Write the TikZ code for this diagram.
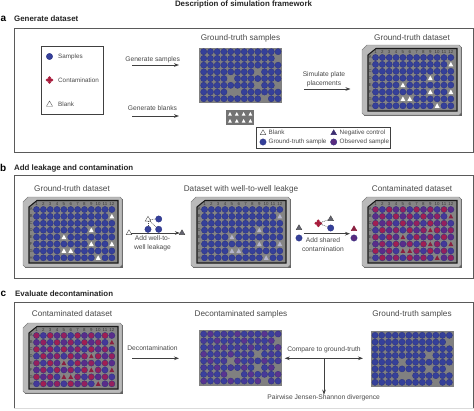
\documentclass[tikz,border=0pt]{standalone}
\usepackage{fontspec}
\setmainfont{Liberation Sans}
\usetikzlibrary{arrows.meta,shapes.geometric}
\definecolor{txt}{HTML}{4A4A4A}
\definecolor{frm}{HTML}{5A5A5A}
\definecolor{navy}{HTML}{35409A}
\definecolor{navyd}{HTML}{2A3080}
\definecolor{red1}{HTML}{A81C3C}
\definecolor{bw0}{HTML}{35409A}\definecolor{bw1}{HTML}{35409A}\definecolor{bw2}{HTML}{35409A}\definecolor{bw3}{HTML}{35409A}
\definecolor{cw0}{HTML}{94205E}\definecolor{cw1}{HTML}{5A2C8A}\definecolor{cw2}{HTML}{A01F52}\definecolor{cw3}{HTML}{44389A}
\definecolor{dw0}{HTML}{3C3E9C}\definecolor{dw1}{HTML}{473A98}\definecolor{dw2}{HTML}{3A409E}\definecolor{dw3}{HTML}{5A3490}
\definecolor{pur}{HTML}{5A2C80}
\definecolor{ctri}{HTML}{8A2040}
\definecolor{ltri}{HTML}{B4B4CC}
\definecolor{ngt}{HTML}{3A2C70}
\expandafter\def\csname blk12x2\endcsname{}
\expandafter\def\csname blk9x4\endcsname{}
\expandafter\def\csname blk5x5\endcsname{}
\expandafter\def\csname blk9x6\endcsname{}
\expandafter\def\csname blk12x6\endcsname{}
\expandafter\def\csname blk5x7\endcsname{}
\expandafter\def\csname blk6x7\endcsname{}
\expandafter\def\csname blk10x8\endcsname{}
% wells: x0 y0 dx dy colour-prefix triangle-colour(empty = none)
\newcommand{\wellgrid}[6]{%
  \foreach \c in {1,...,12}{\foreach \r in {1,...,8}{%
    \pgfmathtruncatemacro\k{mod(\c*3+\r*5,4)}%
    \pgfmathsetmacro\wx{#1+(\c-1)*#3}\pgfmathsetmacro\wy{#2+(\r-1)*#4}%
    \ifcsname blk\c x\r\endcsname
      \if\relax\detokenize{#6}\relax\else
        \fill[#6] (\wx,\wy-2.5) -- (\wx+2.4,\wy+2) -- (\wx-2.4,\wy+2) -- cycle;
      \fi
    \else
      \fill[#5\k,draw=navyd,line width=.3pt] (\wx,\wy) circle[radius=3.1pt];
    \fi
  }}}
\newcommand{\plate}[4]{%
  \begin{scope}[shift={(#1,#2)}]
    \fill[black!62] (1.5,1.5) rectangle (100,71);
    \fill[black!27,draw=black!50,line width=.4pt] (0,5) -- (5,0) -- (97,0) -- (99,2) -- (99,68) -- (97,70) -- (2,70) -- (0,68) -- cycle;
    \fill[black!48,draw=black!90,line width=1.1pt] (6,10) -- (14,3.5) -- (95,3.5) -- (95,66) -- (6,66) -- cycle;
    \foreach \n in {1,...,12}{\node[font=\fontsize{4.4}{5}\selectfont,text=black!78,inner sep=0] at ({13.5+(\n-1)*6.85},6.6) {\n};}
    \foreach \n/\l in {1/A,2/B,3/C,4/D,5/E,6/F,7/G,8/H}{\node[font=\fontsize{4.2}{5}\selectfont,text=black!78,inner sep=0] at (8.2,{12.5+(\n-1)*6.9}) {\l};}
    \wellgrid{13.5}{12.5}{6.85}{6.9}{#3}{#4}
  \end{scope}}
\newcommand{\blob}[3]{%
  \node[circle,fill=#3,minimum size=4pt,inner sep=0] (#1) at #2 {};
  \foreach \a/\b in {-2.2/0,2.2/0,0/-2.2,0/2.2}{\fill[#3] (#1.center) ++(\a,\b) circle[radius=1.7pt];}}
\tikzset{
  every node/.style={text=txt},
  lab/.style={font=\fontsize{8.2}{10}\selectfont,inner sep=0},
  sm/.style={font=\fontsize{6.7}{8}\selectfont,inner sep=0,align=center},
  leg/.style={font=\fontsize{6.3}{8}\selectfont,inner sep=0,anchor=west},
  hd/.style={font=\bfseries\fontsize{7.9}{10}\selectfont,inner sep=0,text=black!85},
  pl/.style={font=\bfseries\fontsize{10}{10}\selectfont,inner sep=0,text=black},
  panel/.style={draw=frm,line width=.9pt},
  arr/.style={draw=black!75,line width=.75pt,-{Stealth[length=5pt,width=3.6pt]}},
  dashlink/.style={draw=black!70,line width=.5pt,dash pattern=on 1pt off .8pt},
  dotn/.style={circle,fill=navy,draw=navyd,line width=.3pt,minimum size=6.4pt,inner sep=0},
  tri/.style={regular polygon,regular polygon sides=3,inner sep=0,minimum size=7pt,line width=.4pt},
  wtri/.style={tri,draw=black!65,fill=white},
  gtri/.style={tri,draw=black!70,fill=black!45!ltri},
}
\begin{document}
\begin{tikzpicture}[x=1pt,y=-1pt]
\useasboundingbox (0,0) rectangle (474,410);
\fill[white] (0,0) rectangle (474,410);
% titles
\node[hd] (title) at (243.5,4) {Description of simulation framework};
\node[pl,anchor=west] (la) at (0.5,18.5) {a};
\node[hd,anchor=west] (ha) at (14,19) {Generate dataset};
\node[pl,anchor=west] (lb) at (0,168) {b};
\node[hd,anchor=west] (hb) at (14,168.5) {Add leakage and contamination};
\node[pl,anchor=west] (lc) at (0.5,294) {c};
\node[hd,anchor=west] (hc) at (15,294) {Evaluate decontamination};
% panels
\draw[panel] (14,28) rectangle (473.5,152);
\draw[panel] (14,175.5) rectangle (473.5,278);
\draw[panel] (14,408) -- (14,302) -- (473.5,302) -- (473.5,408);
\draw[black!14,line width=.8pt] (14,408) -- (473.5,408);
% --- panel a ---
\draw[draw=black!75,line width=.9pt,fill=white] (41,46) rectangle (103,114);
\node[dotn] (lgs) at (49.5,56.5) {};
\node[leg] (lgst) at (58,56.5) {Samples};
\blob{lgc}{(49.5,80)}{red1}
\node[leg] (lgct) at (58,80) {Contamination};
\node[wtri] (lgb) at (49.5,104.5) {};
\node[leg] (lgbt) at (58,104) {Blank};
\node[sm] (t1) at (152.7,59.5) {Generate samples};
\coordinate (a1s) at (132,65); \coordinate (a1e) at (179,65);
\draw[arr] (a1s) -- (a1e);
\node[sm] (t2) at (152.5,108.5) {Generate blanks};
\coordinate (a2s) at (132,116); \coordinate (a2e) at (179,116);
\draw[arr] (a2s) -- (a2e);
\node[lab] (gts) at (240.5,38) {Ground-truth samples};
\fill[black!50] (199.3,47.7) rectangle (282,103);
\wellgrid{203.7}{51.7}{6.76}{6.72}{bw}{}
\fill[black!55] (226,109.5) rectangle (254,124.7);
\foreach \x in {0,1,2,3}{\foreach \y in {0,1}{\fill[white] ({230+\x*6.8},{112+\y*7}) -- ++(1.9,3.6) -- ++(-3.8,0) -- cycle;}}
\node[sm] (t3) at (324,79) {Simulate plate\\[1.2pt]placements};
\coordinate (a3s) at (304,89); \coordinate (a3e) at (350.5,89);
\draw[arr] (a3s) -- (a3e);
\node[lab] (gtd) at (412,38) {Ground-truth dataset};
\plate{362}{45}{bw}{white}
\draw[draw=black!75,line width=.9pt,fill=white] (256.7,127) rectangle (390.7,148.5);
\node[wtri,minimum size=6.5pt] (k1) at (263,133) {};
\node[leg] (k1t) at (268.5,132.5) {Blank};
\node[tri,fill=ngt,draw=ngt,minimum size=6.5pt] (k2) at (333.7,133) {};
\node[leg] (k2t) at (339.5,132.5) {Negative control};
\node[dotn] (k3) at (263,142) {};
\node[leg] (k3t) at (268.5,142) {Ground-truth sample};
\node[dotn,fill=pur] (k4) at (333.7,142) {};
\node[leg] (k4t) at (339.5,142) {Observed sample};
% --- panel b ---
\node[lab] (bt1) at (72,189) {Ground-truth dataset};
\plate{23}{197}{bw}{white}
\node[lab] (bt2) at (241,189) {Dataset with well-to-well leakge};
\plate{191}{197}{bw}{ltri}
\node[lab] (bt3) at (412,189) {Contaminated dataset};
\plate{362}{197}{cw}{ctri}
% leakage mini
\node[wtri,minimum size=6.5pt] (b1a) at (129,233) {};
\node[gtri,minimum size=6.5pt] (b1b) at (182,233) {};
\draw[arr] (b1a) -- (b1b);
\node[wtri,minimum size=6.5pt] (m0) at (148,219.5) {};
\node[dotn] (m1) at (158.7,219) {};
\node[dotn] (m2) at (148,229.3) {};
\node[dotn] (m3) at (158.7,229.3) {};
\draw[dashlink] (m0) -- (m1);
\draw[dashlink] (m0) -- (m2);
\draw[dashlink] (m0) -- (m3);
\node[sm] (t4) at (152.5,243) {Add well-to-\\[.6pt]well leakage};
% contamination mini
\node[gtri,minimum size=6.5pt] (c1) at (299,228) {};
\node[dotn] (c2) at (299,238) {};
\node[tri,fill=ctri,draw=ctri,minimum size=6.5pt] (c3) at (354,229) {};
\node[dotn,fill=pur] (c4) at (354,238) {};
\coordinate (b2s) at (304,233.7); \coordinate (b2e) at (350,233.7);
\draw[arr] (b2s) -- (b2e);
\blob{n0}{(318.3,223.3)}{red1}
\node[gtri,minimum size=6.5pt] (n1) at (330.7,219) {};
\node[dotn] (n2) at (330.7,228) {};
\draw[dashlink] (n0) -- (n1);
\draw[dashlink] (n0) -- (n2);
\node[sm] (t5) at (323,244.7) {Add shared\\[.6pt]contamination};
% --- panel c ---
\node[lab] (ct1) at (72,314) {Contaminated dataset};
\plate{23}{323}{cw}{ctri}
\node[sm] (t6) at (152.5,347.7) {Decontamination};
\coordinate (c1s) at (132,358.3); \coordinate (c1e) at (179,358.3);
\draw[arr] (c1s) -- (c1e);
\node[lab] (ct2) at (241,314) {Decontaminated samples};
\fill[black!50] (199.3,330) rectangle (282,385.7);
\wellgrid{203.7}{334}{6.76}{6.72}{dw}{}
\node[lab] (ct3) at (412,314) {Ground-truth samples};
\fill[black!50] (370.7,331) rectangle (453.7,387);
\wellgrid{375}{335.3}{6.76}{6.72}{bw}{}
\node[sm] (t7) at (324,349.5) {Compare to ground-truth};
\coordinate (d1) at (284.7,358.3); \coordinate (d2) at (363,358.3); \coordinate (d3) at (324,358.3);
\draw[draw=black!75,line width=.75pt,{Stealth[length=5pt,width=3.6pt]}-{Stealth[length=5pt,width=3.6pt]}] (d1) -- (d2);
\node[sm] (t8) at (323.7,398) {Pairwise Jensen-Shannon divergence};
\draw[arr] (d3) -- (t8.north -| d3);
\end{tikzpicture}
\end{document}
